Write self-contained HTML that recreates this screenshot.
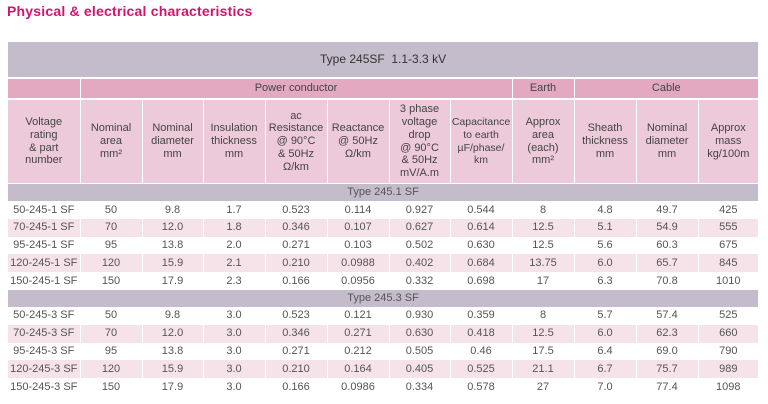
<!DOCTYPE html>
<html><head><meta charset="utf-8"><style>
body{margin:0;width:768px;height:404px;background:#fff;font-family:"Liberation Sans","DejaVu Sans",sans-serif;color:#555;overflow:hidden;position:relative}
h1{position:absolute;left:7px;top:3px;margin:0;font-size:14px;font-weight:bold;color:#d4136c;letter-spacing:0.2px}
table{position:absolute;left:8px;top:42px;width:750px;border-collapse:collapse;table-layout:fixed;font-size:11px;text-align:center}
td{padding:0;border-left:1.5px solid #fff;line-height:12.8px;overflow:hidden;white-space:nowrap}
tr.t td{background:#c4bccb;height:35px;font-size:12px;color:#333;border-bottom:2px solid #fff}
tr.g td{background:#e2a9c1;height:19px;color:#444;border-bottom:2px solid #fff}
tr.h td{background:#eccad9;height:83px;color:#444;border-bottom:1px solid #fff}
tr.s td{background:#c4bccb;height:17px;color:#555}
tr.r td{height:17.8px;background:#fff}
tr.p td{background:#f6e3ea}
td:first-child{border-left:none}
</style></head><body>
<h1>Physical &amp; electrical characteristics</h1>
<table>
<colgroup><col style="width:72px"><col style="width:62px"><col style="width:61px"><col style="width:62px"><col style="width:62px"><col style="width:62px"><col style="width:61px"><col style="width:62px"><col style="width:62px"><col style="width:62px"><col style="width:62px"><col style="width:60px"></colgroup>
<tr class="t"><td colspan="12">Type 245SF&nbsp; 1.1-3.3 kV</td></tr>
<tr class="g"><td></td><td colspan="7">Power conductor</td><td>Earth</td><td colspan="3">Cable</td></tr>
<tr class="h"><td>Voltage<br>rating<br>&amp; part<br>number</td><td>Nominal<br>area<br>mm²</td><td>Nominal<br>diameter<br>mm</td><td>Insulation<br>thickness<br>mm</td><td>ac<br>Resistance<br>@ 90°C<br>&amp; 50Hz<br>Ω/km</td><td>Reactance<br>@ 50Hz<br>Ω/km</td><td>3 phase<br>voltage<br>drop<br>@ 90°C<br>&amp; 50Hz<br>mV/A.m</td><td style="font-size:10.5px">Capacitance<br>to earth<br>µF/phase/<br>km</td><td>Approx<br>area<br>(each)<br>mm²</td><td>Sheath<br>thickness<br>mm</td><td>Nominal<br>diameter<br>mm</td><td>Approx<br>mass<br>kg/100m</td></tr>
<tr class="s"><td colspan="12">Type 245.1 SF</td></tr>
<tr class="r"><td>50-245-1 SF</td><td>50</td><td>9.8</td><td>1.7</td><td>0.523</td><td>0.114</td><td>0.927</td><td>0.544</td><td>8</td><td>4.8</td><td>49.7</td><td>425</td></tr>
<tr class="r p"><td>70-245-1 SF</td><td>70</td><td>12.0</td><td>1.8</td><td>0.346</td><td>0.107</td><td>0.627</td><td>0.614</td><td>12.5</td><td>5.1</td><td>54.9</td><td>555</td></tr>
<tr class="r"><td>95-245-1 SF</td><td>95</td><td>13.8</td><td>2.0</td><td>0.271</td><td>0.103</td><td>0.502</td><td>0.630</td><td>12.5</td><td>5.6</td><td>60.3</td><td>675</td></tr>
<tr class="r p"><td>120-245-1 SF</td><td>120</td><td>15.9</td><td>2.1</td><td>0.210</td><td>0.0988</td><td>0.402</td><td>0.684</td><td>13.75</td><td>6.0</td><td>65.7</td><td>845</td></tr>
<tr class="r"><td>150-245-1 SF</td><td>150</td><td>17.9</td><td>2.3</td><td>0.166</td><td>0.0956</td><td>0.332</td><td>0.698</td><td>17</td><td>6.3</td><td>70.8</td><td>1010</td></tr>
<tr class="s"><td colspan="12">Type 245.3 SF</td></tr>
<tr class="r"><td>50-245-3 SF</td><td>50</td><td>9.8</td><td>3.0</td><td>0.523</td><td>0.121</td><td>0.930</td><td>0.359</td><td>8</td><td>5.7</td><td>57.4</td><td>525</td></tr>
<tr class="r p"><td>70-245-3 SF</td><td>70</td><td>12.0</td><td>3.0</td><td>0.346</td><td>0.271</td><td>0.630</td><td>0.418</td><td>12.5</td><td>6.0</td><td>62.3</td><td>660</td></tr>
<tr class="r"><td>95-245-3 SF</td><td>95</td><td>13.8</td><td>3.0</td><td>0.271</td><td>0.212</td><td>0.505</td><td>0.46</td><td>17.5</td><td>6.4</td><td>69.0</td><td>790</td></tr>
<tr class="r p"><td>120-245-3 SF</td><td>120</td><td>15.9</td><td>3.0</td><td>0.210</td><td>0.164</td><td>0.405</td><td>0.525</td><td>21.1</td><td>6.7</td><td>75.7</td><td>989</td></tr>
<tr class="r"><td>150-245-3 SF</td><td>150</td><td>17.9</td><td>3.0</td><td>0.166</td><td>0.0986</td><td>0.334</td><td>0.578</td><td>27</td><td>7.0</td><td>77.4</td><td>1098</td></tr>
</table>
</body></html>
